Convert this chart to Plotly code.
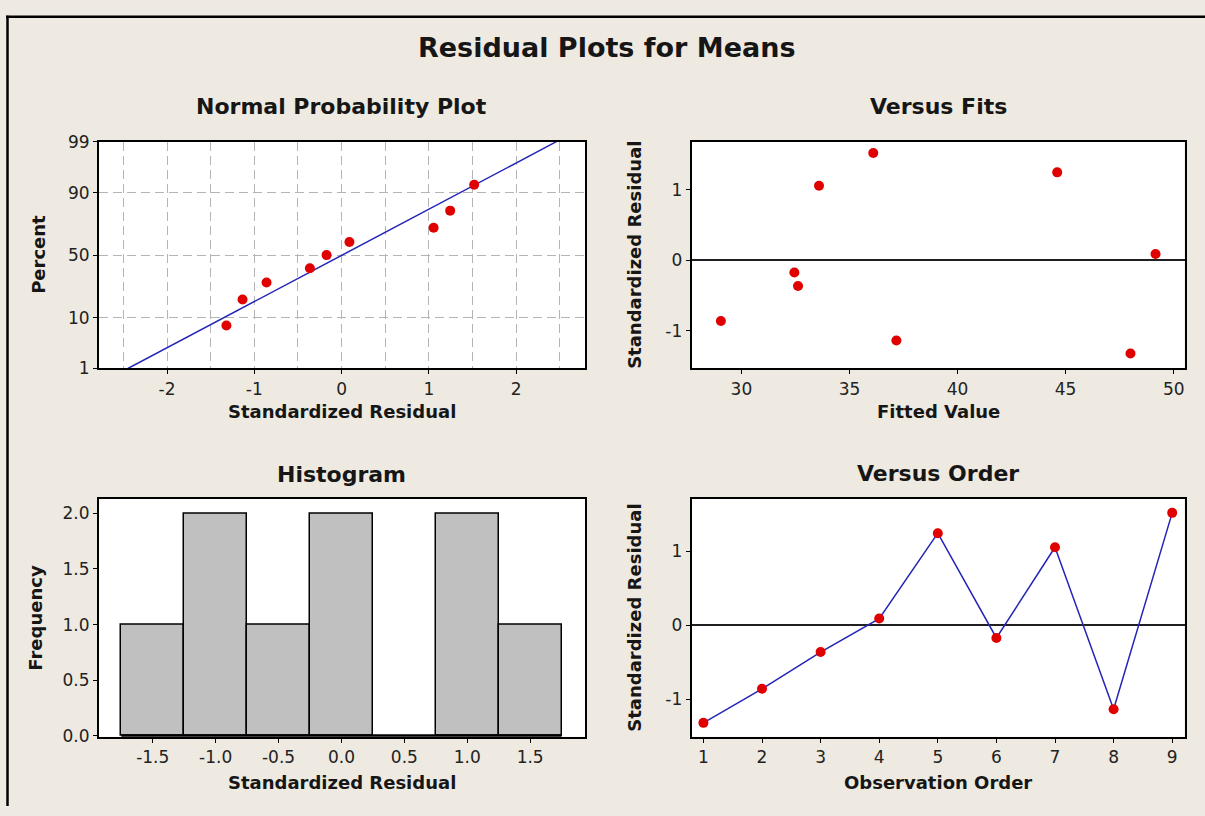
import plotly.graph_objects as go
import numpy as np
from statistics import NormalDist

# ---------------- data ----------------
observation_order = [1, 2, 3, 4, 5, 6, 7, 8, 9]
std_residuals = [-1.32, -0.86, -0.363, 0.09, 1.245, -0.172, 1.055, -1.135, 1.52]
fitted_values = [48.0, 29.05, 32.62, 49.16, 44.61, 32.45, 33.59, 37.17, 36.10]
prob_percent = [7.45, 18.09, 28.72, 39.36, 50.0, 60.64, 71.28, 81.91, 92.55]
percent_ticks = [1, 10, 50, 90, 99]
npp_x_ticks = [-2, -1, 0, 1, 2]
fits_x_ticks = [30, 35, 40, 45, 50]
resid_y_ticks = [-1, 0, 1]
hist_x_ticks = [-1.5, -1.0, -0.5, 0.0, 0.5, 1.0, 1.5]
hist_y_ticks = [0.0, 0.5, 1.0, 1.5, 2.0]
hist_bin_start, hist_bin_end, hist_bin_size = -1.75, 1.75, 0.5

# ---------------- styling ----------------
W, H = 1205, 816
BG = "#EEEAE1"
RED = "#E00000"
BLUE = "#2424B8"
FONT = "'DejaVu Sans', Tahoma, sans-serif"
TXT = "#161616"
GRID = "#B4B4B4"

def px(x):
    return x / W

def py(y):
    return 1 - y / H

nd = NormalDist()
z = lambda p: nd.inv_cdf(p / 100.0)

sorted_res = sorted(std_residuals)
mu = float(np.mean(std_residuals))
sd = float(np.std(std_residuals, ddof=1))
line_pct = [percent_ticks[0], percent_ticks[-1]]
line_x = [mu + sd * z(p) for p in line_pct]
line_y = [z(p) for p in line_pct]

fig = go.Figure()

# Normal probability plot
fig.add_trace(go.Scatter(x=line_x, y=line_y, mode="lines",
                         line=dict(color=BLUE, width=1.5),
                         xaxis="x", yaxis="y", showlegend=False))
fig.add_trace(go.Scatter(x=sorted_res, y=[z(p) for p in prob_percent], mode="markers",
                         marker=dict(color=RED, size=10),
                         xaxis="x", yaxis="y", showlegend=False))

# Versus fits
fig.add_trace(go.Scatter(x=fitted_values, y=std_residuals, mode="markers",
                         marker=dict(color=RED, size=10),
                         xaxis="x2", yaxis="y2", showlegend=False))

# Histogram
fig.add_trace(go.Histogram(x=std_residuals,
                           xbins=dict(start=hist_bin_start, end=hist_bin_end, size=hist_bin_size),
                           autobinx=False,
                           marker=dict(color="#C0C0C0", line=dict(color="black", width=1.5)),
                           xaxis="x3", yaxis="y3", showlegend=False))
fig.add_trace(go.Scatter(x=[hist_bin_start, hist_bin_end], y=[0, 0], mode="lines",
                         line=dict(color="black", width=3),
                         xaxis="x3", yaxis="y3", showlegend=False, hoverinfo="skip"))

# Versus order
fig.add_trace(go.Scatter(x=observation_order, y=std_residuals, mode="lines+markers",
                         line=dict(color=BLUE, width=1.5),
                         marker=dict(color=RED, size=10),
                         xaxis="x4", yaxis="y4", showlegend=False))

tickfont = dict(family=FONT, size=17, color="#222222")
common = dict(showline=True, linecolor="black", linewidth=2, mirror=True,
              ticks="outside", ticklen=4, tickcolor="black", tickwidth=1,
              tickfont=tickfont, showgrid=False, zeroline=False, fixedrange=True)

def ax(**kw):
    d = dict(common)
    d.update(kw)
    return d

def labels(vals, fmt="{:g}"):
    return [fmt.format(v) for v in vals]

dL = [px(99), px(585)]
dR = [px(691.7), px(1184.5)]
dT = [py(367.5), py(135)]
dB = [py(745), py(501)]

fig.update_layout(
    width=W, height=H,
    margin=dict(l=0, r=0, t=0, b=0),
    paper_bgcolor=BG, plot_bgcolor="white",
    bargap=0,
    xaxis=ax(domain=dL, anchor="y", range=[-2.78, 2.79],
             tickvals=npp_x_ticks, ticktext=labels(npp_x_ticks),
             showgrid=True, gridcolor=GRID, gridwidth=1, griddash="9px,5px",
             minor=dict(dtick=0.5, tick0=0, showgrid=True, gridcolor=GRID,
                        gridwidth=1, griddash="9px,5px", ticks="")),
    yaxis=ax(domain=dT, anchor="x", range=[z(percent_ticks[0]), z(percent_ticks[-1])],
             tickvals=[z(p) for p in percent_ticks], ticktext=labels(percent_ticks),
             showgrid=True, gridcolor=GRID, gridwidth=1, griddash="9px,5px"),
    xaxis2=ax(domain=dR, anchor="y2", range=[27.7, 50.5],
              tickvals=fits_x_ticks, ticktext=labels(fits_x_ticks)),
    yaxis2=ax(domain=dT, anchor="x2", range=[-1.531, 1.679],
              tickvals=resid_y_ticks, ticktext=labels(resid_y_ticks),
              zeroline=True, zerolinecolor="#202020", zerolinewidth=1.5),
    xaxis3=ax(domain=dL, anchor="y3", range=[-1.927, 1.936],
              tickvals=hist_x_ticks, ticktext=labels(hist_x_ticks, "{:.1f}")),
    yaxis3=ax(domain=dB, anchor="x3", range=[-0.008, 2.131],
              tickvals=hist_y_ticks, ticktext=labels(hist_y_ticks, "{:.1f}")),
    xaxis4=ax(domain=dR, anchor="y4", range=[0.8, 9.21],
              tickvals=observation_order, ticktext=labels(observation_order)),
    yaxis4=ax(domain=dB, anchor="x4", range=[-1.508, 1.711],
              tickvals=resid_y_ticks, ticktext=labels(resid_y_ticks),
              zeroline=True, zerolinecolor="#202020", zerolinewidth=1.5),
)

def ann(text, x, y, size, angle=0):
    fig.add_annotation(text=text, x=px(x), y=py(y), xref="paper", yref="paper",
                       showarrow=False, textangle=angle, xanchor="center", yanchor="middle",
                       font=dict(family=FONT, size=size, color=TXT))

ann("<b>Residual Plots for Means</b>", 607, 38, 27)
ann("<b>Normal Probability Plot</b>", 341.5, 99, 22)
ann("<b>Versus Fits</b>", 938, 99, 22)
ann("<b>Histogram</b>", 341.5, 476, 22)
ann("<b>Versus Order</b>", 938, 475, 22)

ann("<b>Standardized Residual</b>", 341.5, 412, 18)
ann("<b>Fitted Value</b>", 938, 412, 18)
ann("<b>Standardized Residual</b>", 341.5, 792, 18)
ann("<b>Observation Order</b>", 938, 792, 18)

ann("<b>Percent</b>", 39, 251, 18, -90)
ann("<b>Standardized Residual</b>", 635, 251, 18, -90)
ann("<b>Frequency</b>", 36, 623, 18, -90)
ann("<b>Standardized Residual</b>", 635, 623, 18, -90)

# outer frame lines (top and left)
fig.add_shape(type="line", xref="paper", yref="paper", x0=px(6), x1=1, y0=py(7), y1=py(7),
              line=dict(color="black", width=2.5))
fig.add_shape(type="line", xref="paper", yref="paper", x0=px(7.5), x1=px(7.5), y0=0, y1=py(6),
              line=dict(color="black", width=2.5))

fig.write_html("out.html")
